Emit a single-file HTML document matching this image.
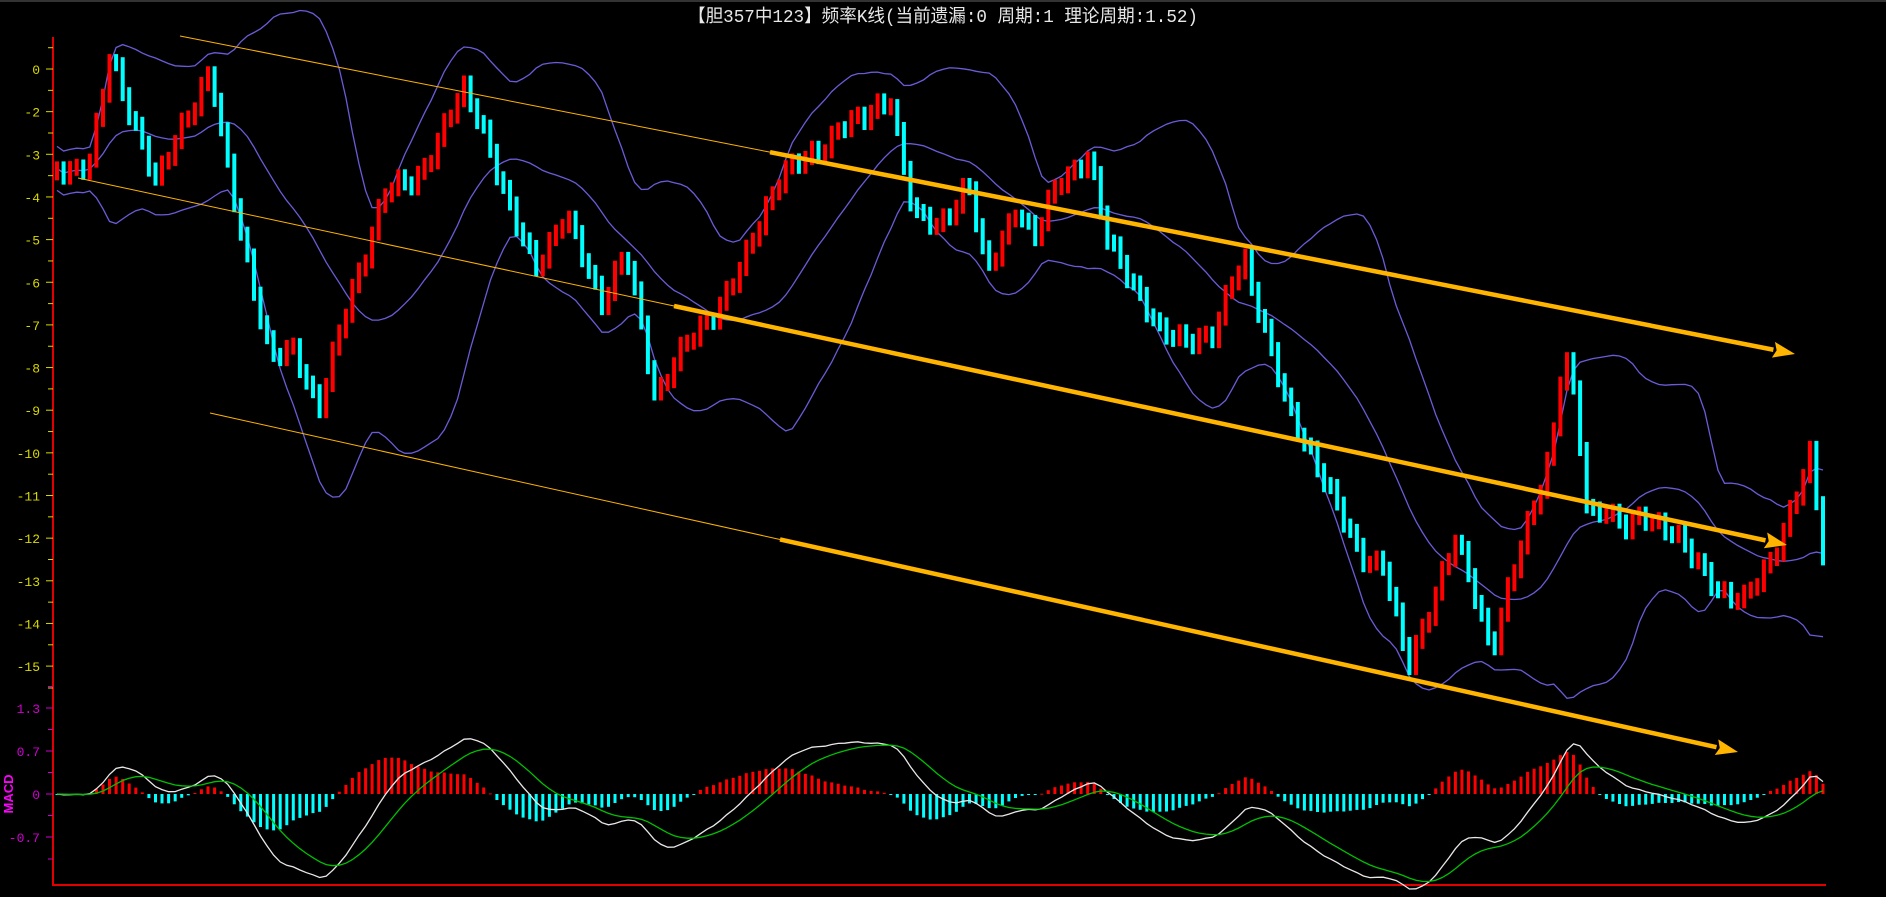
<!DOCTYPE html>
<html><head><meta charset="utf-8"><style>
html,body{margin:0;padding:0;background:#000;overflow:hidden}
svg{display:block}
</style></head><body>
<svg id="c" width="1886" height="897" xmlns="http://www.w3.org/2000/svg" style="background:#000">
<line x1="0" y1="1" x2="1886" y2="1" stroke="#333" stroke-width="2"/>
<text x="688" y="22" fill="#e8e8e8" font-size="18" font-family="'Liberation Mono','Noto Sans CJK SC',monospace" textLength="510" lengthAdjust="spacingAndGlyphs">【胆357中123】频率K线(当前遗漏:0 周期:1 理论周期:1.52)</text>
<g id="g"></g>
</svg>
<script>
(function(){
var NS="http://www.w3.org/2000/svg",g=document.getElementById('g');
function el(t,a){var e=document.createElementNS(NS,t);for(var k in a)e.setAttribute(k,a[k]);g.appendChild(e);return e;}
el('line',{x1:53,y1:37,x2:53,y2:886,stroke:'#e00000','stroke-width':2});
el('line',{x1:53,y1:885,x2:1826,y2:885,stroke:'#e00000','stroke-width':2});
var labs=['0','-2','-3','-4','-5','-6','-7','-8','-9','-10','-11','-12','-13','-14','-15'];
for(var i=0;i<labs.length;i++){var y=69+42.65*i;
 var t=el('text',{x:40,y:y+5,fill:'#d8d800','font-size':13,'font-family':'Liberation Mono,monospace','text-anchor':'end'});t.textContent=labs[i];
 el('line',{x1:46,y1:y,x2:53,y2:y,stroke:'#d8d800'});
 el('line',{x1:48,y1:y-21.3,x2:53,y2:y-21.3,stroke:'#d8d800'});}
el('line',{x1:48,y1:688,x2:53,y2:688,stroke:'#d8d800'});
var ml=[['1.3',708],['0.7',751],['0',794],['-0.7',837]];
ml.forEach(function(m){var t=el('text',{x:40,y:m[1]+5,fill:'#d000d0','font-size':13,'font-family':'Liberation Mono,monospace','text-anchor':'end'});t.textContent=m[0];
 el('line',{x1:46,y1:m[1],x2:53,y2:m[1],stroke:'#d000d0'});el('line',{x1:48,y1:m[1]-21.5,x2:53,y2:m[1]-21.5,stroke:'#d000d0'});});
el('line',{x1:48,y1:859,x2:53,y2:859,stroke:'#d000d0'});
var mt=el('text',{x:0,y:0,fill:'#ff00ff','font-size':13,'font-weight':'bold','font-family':'Liberation Sans,sans-serif','text-anchor':'middle',transform:'translate(13,794) rotate(-90)'});mt.textContent='MACD';
var kp=[[47,140],[60,140],[75,135],[92,45],[100,70],[115,110],[130,155],[150,105],[175,60],[185,120],[200,190],[225,300],[245,290],[265,340],[290,250],[320,160],[345,150],[365,115],[385,75],[400,100],[425,180],[445,220],[470,180],[500,250],[520,210],[545,330],[560,300],[590,265],[620,215],[650,140],[680,130],[700,100],[720,100],[740,80],[760,180],[780,190],[805,150],[820,230],[845,170],[860,200],[880,150],[905,130],[920,200],[940,230],[965,280],[990,280],[1010,280],[1025,230],[1035,215],[1050,270],[1070,340],[1090,375],[1110,420],[1130,460],[1150,470],[1170,555],[1190,500],[1210,450],[1225,490],[1240,540],[1260,470],[1290,370],[1300,290],[1310,340],[1320,430],[1335,420],[1350,440],[1370,430],[1390,440],[1410,470],[1430,490],[1450,500],[1470,470],[1490,420],[1505,380],[1515,460]];
kp=kp.map(function(p){return [p[0]*1.203,p[1]*1.203];});
function interp(x){for(var i=1;i<kp.length;i++){if(x<=kp[i][0]){var a=kp[i-1],b=kp[i],t=(x-a[0])/(b[0]-a[0]);return a[1]+(b[1]-a[1])*t;}}return kp[kp.length-1][1];}
var N=270,x0=57,dx=(1823-57)/(N-1),Y=[],X=[];
for(var i=0;i<N;i++){X.push(x0+i*dx);Y.push(interp(X[i])+7*Math.sin(i*1.9)+4*Math.sin(i*0.7));}
var W=22,up=[],md=[],lo=[];
for(var i=0;i<N;i++){var s=0,c=0;for(var j=Math.max(0,i-W+1);j<=i;j++){s+=Y[j];c++;}var m=s/c,v=0;for(var j=Math.max(0,i-W+1);j<=i;j++)v+=(Y[j]-m)*(Y[j]-m);var sd=Math.sqrt(v/c);sd=Math.max(sd,11);md.push(m);up.push(m-2*sd);lo.push(m+2*sd);}
function pl(arr,col,w){var d='';for(var i=0;i<N;i++)d+=(i?'L':'M')+X[i].toFixed(1)+' '+arr[i].toFixed(1);el('path',{d:d,fill:'none',stroke:col,'stroke-width':w||1.3});}
pl(up,'#6a5cd8');pl(md,'#6a5cd8');pl(lo,'#6a5cd8');
for(var i=0;i<N;i++){var p=Y[i],q=i?Y[i-1]:Y[i]+5;var upb=p<q;var tp=Math.min(p,q)-7,bt=Math.max(p,q)+7;if(bt-tp<17){var cc=(tp+bt)/2;tp=cc-8.5;bt=cc+8.5;}
 el('rect',{x:(X[i]-2).toFixed(1),y:tp.toFixed(1),width:4,height:(bt-tp).toFixed(1),fill:upb?'#ff0000':'#00ffff'});}
function ema(a,n){var k=2/(n+1),r=[a[0]];for(var i=1;i<a.length;i++)r.push(r[i-1]+k*(a[i]-r[i-1]));return r;}
var P=Y.map(function(v){return -v;}),e12=ema(P,12),e26=ema(P,26),dif=e12.map(function(v,i){return v-e26[i];}),dea=ema(dif,9);
var mx=0;dif.forEach(function(v){mx=Math.max(mx,Math.abs(v));});var kk=95/mx;
var hm=0;dif.forEach(function(v,i){hm=Math.max(hm,Math.abs(v-dea[i]));});var hk=42/hm;
for(var i=0;i<N;i++){var h=(dif[i]-dea[i])*hk;el('rect',{x:(X[i]-1.5).toFixed(1),y:(h>0?794-h:794).toFixed(1),width:3,height:Math.max(1,Math.abs(h)).toFixed(1),fill:h>0?'#ff0000':'#00ffff'});}
pl(dif.map(function(v){return 794-v*kk;}),'#e8e8e8',1.3);
pl(dea.map(function(v){return 794-v*kk;}),'#00c000',1.3);
var OR='#ffb400';
function tl(x1,y1,x2,y2,xs){var s=(y2-y1)/(x2-x1),ys=y1+s*(xs-x1);
 el('line',{x1:x1,y1:y1,x2:xs,y2:ys,stroke:OR,'stroke-width':1});
 var ang=Math.atan2(y2-y1,x2-x1),L=22,hx=x2-L*Math.cos(ang),hy=y2-L*Math.sin(ang);
 el('line',{x1:xs,y1:ys,x2:hx,y2:hy,stroke:OR,'stroke-width':4.5});
 var px=-Math.sin(ang)*8,py=Math.cos(ang)*8;
 el('polygon',{points:x2+','+y2+' '+(hx+px)+','+(hy+py)+' '+(hx+(x2-hx)*0.15)+','+(hy+(y2-hy)*0.15)+' '+(hx-px)+','+(hy-py),fill:OR});}
tl(180,36,1795,354,770);
tl(78,178,1787,545,674);
tl(210,413,1738,752,780);
})();
</script>
</body></html>
